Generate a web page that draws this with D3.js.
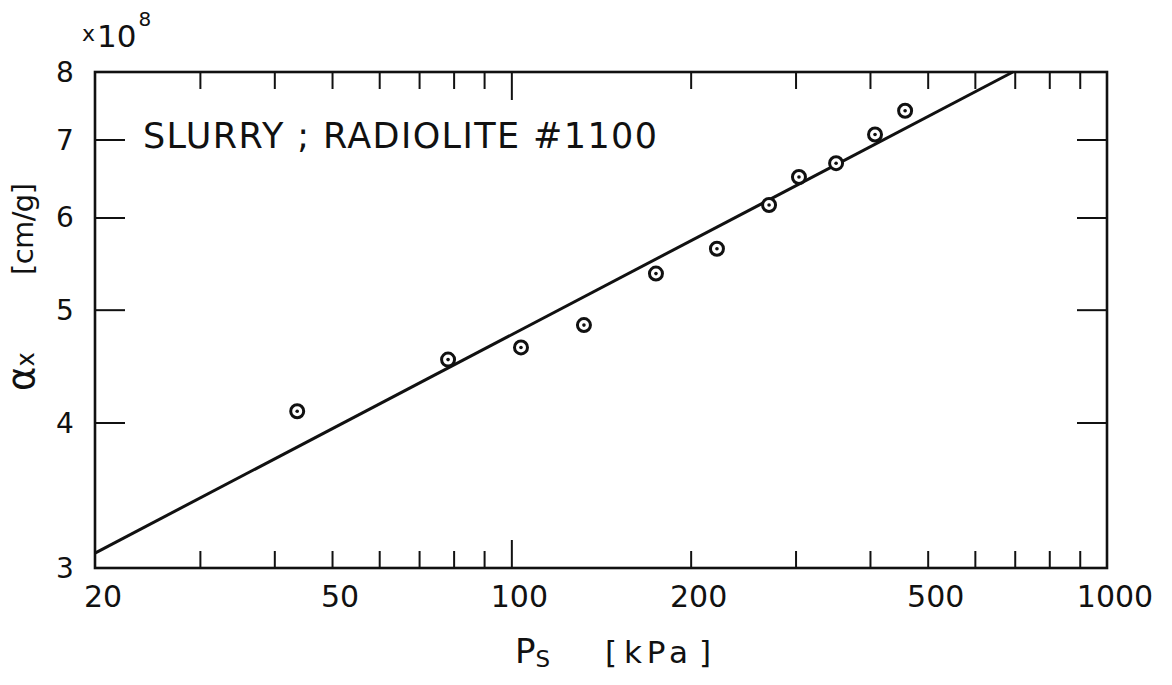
<!DOCTYPE html>
<html>
<head>
<meta charset="utf-8">
<script src="https://cdn.jsdelivr.net/npm/d3@7"></script>
<style>
body { margin:0; background:#fff; }
svg { display:block; }
text { font-family: "DejaVu Sans", sans-serif; fill:#111; }
</style>
</head>
<body>
<div id="chart"></div>
<script>
// data: Ps [kPa] vs alpha_x [x1e8 cm/g]
var psValues = [43.7, 78.3, 103.8, 132.4, 174.9, 221.4, 270.8, 304, 350.9, 407.9, 458.2];
var alphaValues = [4.09, 4.53, 4.64, 4.85, 5.37, 5.64, 6.15, 6.50, 6.68, 7.07, 7.41];
// fitted line end points
var lineX = [20, 695];
var lineY = [3.09, 8.0];

var xMinorTicks = [30, 40, 50, 60, 70, 80, 90, 200, 300, 400, 500, 600, 700, 800, 900];
var xMajorTicks = [100];
var xTickLabels = [20, 50, 100, 200, 500, 1000];
var yTicks = [4, 5, 6, 7];
var yTickLabels = [3, 4, 5, 6, 7, 8];

var W = 1172, H = 685;
var pLeft = 95, pRight = 1107, pTop = 72, pBottom = 568;

var svg = d3.select("#chart").append("svg").attr("width", W).attr("height", H);

var x = d3.scaleLog().domain([20, 1000]).range([pLeft, pRight]);
var y = d3.scaleLog().domain([3, 8]).range([pBottom, pTop]);

// inward ticks, all four sides
function tickAxis(axis, tx, ty) {
	var g = svg.append("g").attr("transform", "translate(" + tx + "," + ty + ")").call(axis);
	g.select(".domain").remove();
	g.selectAll(".tick line").attr("stroke", "#111").attr("stroke-width", 2);
	g.selectAll(".tick text").remove();
	return g;
}
tickAxis(d3.axisBottom(x).tickValues(xMinorTicks).tickSize(-17), 0, pBottom);
tickAxis(d3.axisBottom(x).tickValues(xMajorTicks).tickSize(-28), 0, pBottom);
tickAxis(d3.axisTop(x).tickValues(xMinorTicks).tickSize(-17), 0, pTop);
tickAxis(d3.axisTop(x).tickValues(xMajorTicks).tickSize(-28), 0, pTop);
tickAxis(d3.axisLeft(y).tickValues(yTicks).tickSize(-30), pLeft, 0);
tickAxis(d3.axisRight(y).tickValues(yTicks).tickSize(-30), pRight, 0);

// frame
svg.append("rect").attr("x", pLeft).attr("y", pTop).attr("width", pRight - pLeft).attr("height", pBottom - pTop)
	.attr("fill", "none").attr("stroke", "#111").attr("stroke-width", 2.6);

// tick labels
svg.selectAll(".xlab").data(xTickLabels).enter().append("text")
	.attr("class", "xlab")
	.attr("x", function(d) { return x(d) + 8; })
	.attr("y", 607)
	.attr("text-anchor", "middle")
	.attr("font-size", 30)
	.text(function(d) { return d; });

svg.selectAll(".ylab").data(yTickLabels).enter().append("text")
	.attr("class", "ylab")
	.attr("x", 65)
	.attr("y", function(d) { return y(d) + 10; })
	.attr("text-anchor", "middle")
	.attr("font-size", 28)
	.text(function(d) { return d; });

// x10^8
var mult = svg.append("text").attr("x", 82).attr("y", 47).attr("font-size", 31);
mult.append("tspan").attr("font-size", 22).attr("dy", -6).text("x");
mult.append("tspan").attr("dx", 2).attr("dy", 6).text("10");
mult.append("tspan").attr("font-size", 20).attr("dy", -21).attr("dx", 2).text("8");

// fitted line
var line = d3.line().x(function(d) { return x(d[0]); }).y(function(d) { return y(d[1]); });
svg.append("path").datum(d3.zip(lineX, lineY)).attr("d", line)
	.attr("fill", "none").attr("stroke", "#111").attr("stroke-width", 3);

// data points: circle with centre dot
var pts = svg.selectAll(".pt").data(d3.zip(psValues, alphaValues)).enter().append("g")
	.attr("class", "pt")
	.attr("transform", function(d) { return "translate(" + x(d[0]) + "," + y(d[1]) + ")"; });
pts.append("circle").attr("r", 6.5).attr("fill", "#fff").attr("stroke", "#111").attr("stroke-width", 3);
pts.append("circle").attr("r", 1.8).attr("fill", "#111");

// annotation
svg.append("text").attr("x", 143).attr("y", 148).attr("font-size", 35)
	.attr("textLength", 514).attr("lengthAdjust", "spacing")
	.text("SLURRY ; RADIOLITE #1100");

// x axis title
var xt = svg.append("text").attr("x", 515).attr("y", 663).attr("font-size", 34);
xt.append("tspan").text("P");
xt.append("tspan").attr("font-size", 23).attr("dy", 4).text("S");
var xu = svg.append("text").attr("y", 663).attr("font-size", 31);
xu.append("tspan").attr("x", 605).text("[");
xu.append("tspan").attr("x", 624).attr("textLength", 64).attr("lengthAdjust", "spacing").text("kPa");
xu.append("tspan").attr("x", 699).text("]");

// y axis title (rotated)
var yt = svg.append("text").attr("transform", "translate(34,391) rotate(-90)").attr("font-size", 37);
yt.append("tspan").text("α");
yt.append("tspan").attr("font-size", 24).text("x");
yt.append("tspan").attr("font-size", 29).attr("x", 116).attr("dy", -1).attr("textLength", 92).attr("lengthAdjust", "spacing").text("[cm/g]");
</script>
</body>
</html>
